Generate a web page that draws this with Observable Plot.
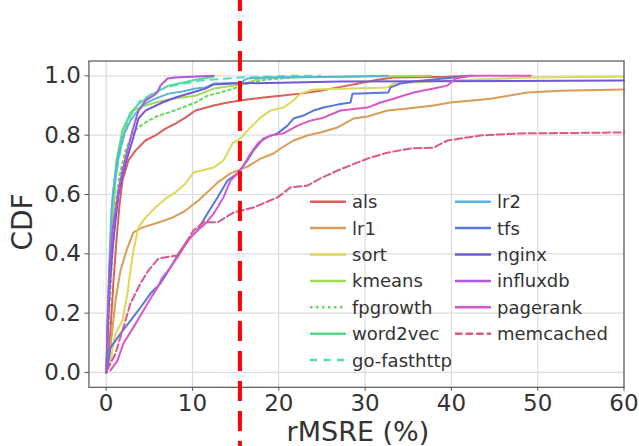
<!DOCTYPE html>
<html><head><meta charset="utf-8">
<script src="https://cdn.jsdelivr.net/npm/d3@7"></script>
<script src="https://cdn.jsdelivr.net/npm/@observablehq/plot@0.6"></script>
<style>
body{margin:0;background:#fff}
#chart svg{overflow:visible;display:block}
</style>
</head><body><div id="chart"></div>
<script>
// ---------------- data ----------------
const seriesNames = ["als","lr1","sort","kmeans","fpgrowth","word2vec","go-fasthttp","lr2","tfs","nginx","influxdb","pagerank","memcached"];
const seriesColors = ["#db5f57","#db9c57","#dbd957","#a0db57","#63db57","#57db88","#57dbc4","#57b4db","#5778db","#7357db","#b057db","#db57c9","#db578c"];
const seriesDash = [null,null,null,null,"2.5,3.5",null,"7,6.5",null,null,null,null,null,"7.4,3.2"];

const als_x = [0.03,0.5,0.85,1.19,1.54,1.89,2.58,3.4,4.55,5.71,6.87,8.03,9.19,10.35,12.47,14.06,16.37,18.23,20.2,22.51,24.83,27.96,31.44,33.29,39.55,42.22];
const als_y = [0,0.142,0.31,0.445,0.563,0.647,0.715,0.748,0.782,0.799,0.822,0.839,0.859,0.883,0.9,0.91,0.92,0.927,0.933,0.94,0.95,0.967,0.987,0.994,0.997,1.0];

const lr1_x = [0.03,0.5,1.08,1.66,2.47,3.16,4.21,5.71,7.68,9.19,10.7,12.9,14.4,16.37,17.88,19.39,20.2,21.7,23.32,24.83,26.81,28.66,30.28,32.6,34.91,37.93,39.9,44.54,48.83,52.66,60];
const lr1_y = [0.003,0.084,0.243,0.344,0.421,0.472,0.489,0.502,0.522,0.546,0.58,0.64,0.671,0.694,0.721,0.738,0.755,0.782,0.799,0.809,0.826,0.856,0.863,0.883,0.89,0.9,0.91,0.923,0.944,0.95,0.954];

const sort_x = [0.03,0.5,1.08,1.89,2.47,2.82,3.16,3.74,4.55,5.71,6.87,8.03,9.19,10.12,12.47,13.59,14.63,15.56,16.72,17.88,19.04,20.55,21.7,22.51,24.02,32.6,33.29,39.55,48.83,60];
const sort_y = [0.003,0.04,0.131,0.175,0.266,0.344,0.411,0.489,0.522,0.556,0.586,0.607,0.637,0.674,0.691,0.715,0.772,0.789,0.826,0.859,0.883,0.893,0.917,0.94,0.954,0.961,0.974,0.984,0.994,0.997];

const kmeans_x = [0.03,0.27,0.61,1.08,1.66,2.47,3.16,4.21,5.71,7.22,8.84,10.35,12.47,14.75,16.37,17.88,20.2,37.58];
const kmeans_y = [0,0.243,0.445,0.647,0.765,0.849,0.883,0.897,0.91,0.92,0.927,0.933,0.957,0.967,0.977,0.991,0.994,1.0];

const fpgrowth_x = [0.03,0.38,0.73,1.08,1.54,2.24,3.05,3.74,4.9,6.06,7.22,8.84,10.35,11.74,13.24,14.75,16.37,18.46,22.51];
const fpgrowth_y = [0,0.209,0.411,0.563,0.664,0.748,0.806,0.826,0.849,0.866,0.876,0.893,0.91,0.933,0.944,0.957,0.974,0.987,0.997];

const word2vec_x = [0.03,0.15,0.38,0.73,1.19,1.89,2.82,3.97,5.48,7.22,8.84,10.35,12.47];
const word2vec_y = [0,0.142,0.344,0.58,0.715,0.816,0.876,0.91,0.94,0.967,0.977,0.987,0.997];

const gofasthttp_x = [0.03,0.15,0.38,0.61,0.85,1.31,1.89,2.82,3.97,5.94,7.8,10.93,15.56,21.36,24.83];
const gofasthttp_y = [0,0.142,0.344,0.512,0.597,0.698,0.782,0.866,0.917,0.95,0.967,0.984,0.994,1.0,1.0];

const lr2_x = [0.03,0.15,0.38,0.61,0.96,1.43,2.12,2.82,3.4,4.55,5.71,7.22,8.84,10.35,11.5,12.47,15.56,16.37,18.23,27.15,32.6];
const lr2_y = [0,0.175,0.377,0.546,0.647,0.731,0.806,0.849,0.873,0.907,0.923,0.94,0.947,0.957,0.961,0.974,0.977,0.991,0.994,0.997,1.0];

const tfs_x = [0.03,0.15,0.5,1.66,2.82,3.97,5.13,6.29,7.45,8.38,9.42,10.58,11.74,12.9,14.06,15.21,16.37,17.07,18.23,19.85,21.01,21.7,22.86,24.02,25.18,26.81,28.31,28.54,32.71,32.94,34.1,35.61,39.09,42.45];
const tfs_y = [0,0.017,0.084,0.131,0.175,0.219,0.266,0.3,0.354,0.401,0.445,0.479,0.536,0.59,0.647,0.671,0.715,0.748,0.789,0.806,0.832,0.856,0.866,0.883,0.893,0.903,0.91,0.94,0.944,0.961,0.974,0.981,0.991,1.0];

const nginx_x = [0.03,0.15,0.38,0.73,1.08,1.43,1.89,2.35,3.05,3.74,4.55,6.52,8.03,10.0,11.5,12.47,14.75,20.2,27.15,60];
const nginx_y = [0,0.108,0.276,0.411,0.512,0.597,0.664,0.715,0.782,0.856,0.883,0.91,0.927,0.944,0.957,0.971,0.974,0.977,0.981,0.984];

const influxdb_x = [0.03,0.15,0.38,0.73,1.08,1.43,1.89,2.47,3.05,3.74,4.55,5.48,5.94,6.29,7.11,8.03,12.47];
const influxdb_y = [0,0.142,0.344,0.479,0.546,0.613,0.681,0.748,0.816,0.883,0.917,0.933,0.944,0.967,0.991,0.994,1.0];

const pagerank_x = [0.5,1.31,2.0,3.16,4.32,5.37,5.94,6.52,7.45,8.38,8.96,9.77,10.58,11.5,12.47,13.59,14.4,15.56,16.72,17.65,19.04,20.55,22.17,23.67,25.18,27.15,30.28,31.78,33.29,35.61,37.93,39.55,40.48,42.22,49.18];
const pagerank_y = [0.007,0.04,0.098,0.152,0.209,0.26,0.286,0.32,0.354,0.394,0.421,0.455,0.479,0.502,0.536,0.59,0.647,0.681,0.738,0.775,0.799,0.806,0.832,0.849,0.859,0.883,0.893,0.91,0.923,0.944,0.957,0.967,0.991,1.0,1.0];

const memcached_x = [0.1,1.08,2.0,2.82,3.97,4.9,6.06,7.45,8.38,9.19,10.12,11.27,12.9,14.75,17.07,19.85,21.36,23.32,24.83,26.81,30.28,32.6,35.26,37.93,39.55,43.38,48.01,60];
const memcached_y = [0.007,0.064,0.152,0.233,0.3,0.344,0.384,0.391,0.394,0.435,0.479,0.506,0.506,0.539,0.556,0.59,0.624,0.63,0.654,0.681,0.721,0.741,0.755,0.758,0.782,0.799,0.806,0.809];

const xTicks = [0,10,20,30,40,50,60];
const yTicks = [0,0.2,0.4,0.6,0.8,1.0];
const threshold = 15.5;
const xLabel = "rMSRE (%)";
const yLabel = "CDF";

// ---------------- build ----------------
const seriesX = {"als":als_x,"lr1":lr1_x,"sort":sort_x,"kmeans":kmeans_x,"fpgrowth":fpgrowth_x,"word2vec":word2vec_x,"go-fasthttp":gofasthttp_x,"lr2":lr2_x,"tfs":tfs_x,"nginx":nginx_x,"influxdb":influxdb_x,"pagerank":pagerank_x,"memcached":memcached_x};
const seriesY = {"als":als_y,"lr1":lr1_y,"sort":sort_y,"kmeans":kmeans_y,"fpgrowth":fpgrowth_y,"word2vec":word2vec_y,"go-fasthttp":gofasthttp_y,"lr2":lr2_y,"tfs":tfs_y,"nginx":nginx_y,"influxdb":influxdb_y,"pagerank":pagerank_y,"memcached":memcached_y};

const lineMarks = seriesNames.map((name, i) => {
  const rows = seriesX[name].map((x, j) => ({x, y: seriesY[name][j]}));
  const opts = {x: "x", y: "y", stroke: seriesColors[i], strokeWidth: 2};
  if (seriesDash[i]) opts.strokeDasharray = seriesDash[i];
  return Plot.line(rows, opts);
});

const W = 639, H = 446;
const chart = Plot.plot({
  width: W, height: H,
  marginLeft: 88.4, marginRight: 15.5, marginTop: 60.5, marginBottom: 59.2,
  style: {fontFamily: "'DejaVu Sans', sans-serif", fontSize: "23px", color: "#333", background: "#fff"},
  x: {domain: [-2, 60]},
  y: {domain: [-0.05, 1.05]},
  marks: [
    Plot.gridX(xTicks, {stroke: "#dcdcdc", strokeOpacity: 1, strokeWidth: 1.2}),
    Plot.gridY(yTicks, {stroke: "#dcdcdc", strokeOpacity: 1, strokeWidth: 1.2}),
    Plot.axisX(xTicks, {tickSize: 4, tickPadding: 3, stroke: "#555", fill: "#333", fontSize: 23, label: null}),
    Plot.axisY(yTicks, {tickSize: 4, tickPadding: 4, stroke: "#555", fill: "#333", fontSize: 23, tickFormat: d3.format(".1f"), label: null}),
    ...lineMarks,
    Plot.frame({stroke: "#555", strokeWidth: 1.2}),
    Plot.ruleX([threshold], {y1: -0.3, y2: 1.3, stroke: "#ff0000", strokeWidth: 4, strokeDasharray: "20,10"})
  ]
});
document.getElementById("chart").append(chart);

// ---------------- labels & legend ----------------
const svg = d3.select(chart);
const cx = (88.4 + (W - 15.5)) / 2;
svg.append("text").attr("x", cx + 2).attr("y", 441).attr("text-anchor", "middle")
  .attr("font-family", "DejaVu Sans").attr("font-size", 27).attr("fill", "#333").text(xLabel);
svg.append("text").attr("transform", "translate(32,222) rotate(-90)").attr("text-anchor", "middle")
  .attr("font-family", "DejaVu Sans").attr("font-size", 28).attr("fill", "#333").text(yLabel);

const lg = svg.append("g").attr("font-family", "DejaVu Sans").attr("font-size", 18).attr("fill", "#333").attr("text-anchor", "start");
const colX = [310, 455], rowY0 = 201.7, rowStep = 26.4, nPerCol = 7;
seriesNames.forEach((name, i) => {
  const c = Math.floor(i / nPerCol), r = i % nPerCol;
  const x0 = colX[c], y0 = rowY0 + r * rowStep;
  const ln = lg.append("line").attr("x1", x0).attr("x2", x0 + 36).attr("y1", y0).attr("y2", y0)
    .attr("stroke", seriesColors[i]).attr("stroke-width", 2.5);
  if (seriesDash[i]) ln.attr("stroke-dasharray", seriesDash[i]);
  lg.append("text").attr("x", x0 + 42).attr("y", y0 + 6.5).attr("text-anchor", "start").text(name);
});
</script>
</body></html>
